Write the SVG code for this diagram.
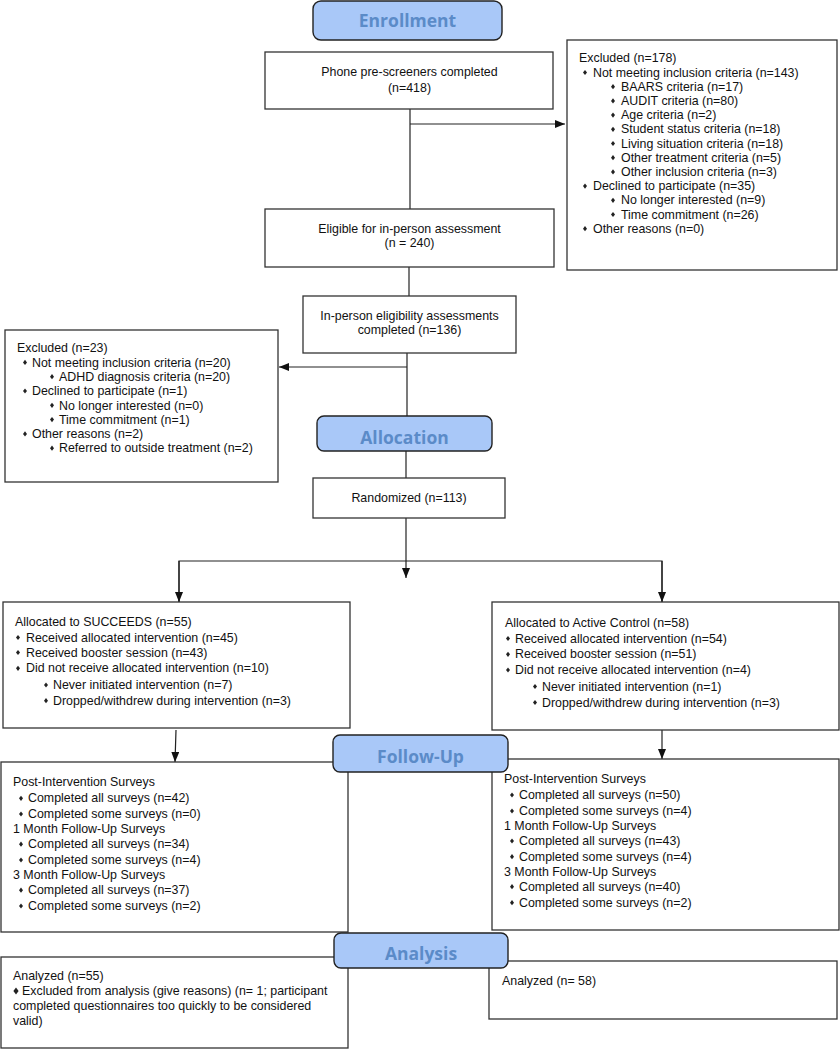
<svg xmlns="http://www.w3.org/2000/svg" xmlns:xlink="http://www.w3.org/1999/xlink" width="840" height="1050" viewBox="0 0 840 1050">
<style>
.box{fill:#fff;stroke:#333;stroke-width:1.3}
.hdr{fill:#a9c8f8;stroke:#222;stroke-width:1.4}
.ht{font-family:"Open Sans","Noto Sans",sans-serif;font-weight:700;font-size:17.5px;fill:#5b8bc8;text-anchor:middle}
.t{font-family:"Liberation Sans",Arial,sans-serif;font-size:12.4px;fill:#111}
.c{text-anchor:middle}
.ln{fill:none;stroke:#222;stroke-width:1.2}
</style>
<defs>
<marker id="ah" markerWidth="10" markerHeight="8" refX="10" refY="4" orient="auto" markerUnits="userSpaceOnUse">
<path d="M0,0 L10,4 L0,8 Z" fill="#111"/>
</marker>
<path id="b" d="M0,-2.6 L2,0 L0,2.6 L-2,0 Z" fill="#222"/>
<path id="bb" d="M0,-3.6 L2.6,0 L0,3.6 L-2.6,0 Z" fill="#222"/>
</defs>

<g id="connectors">
<line class="ln" x1="410" y1="109" x2="410" y2="209"/>
<line class="ln" x1="410" y1="124" x2="565" y2="124" marker-end="url(#ah)"/>
<line class="ln" x1="409" y1="267" x2="409" y2="296"/>
<line class="ln" x1="407" y1="353" x2="407" y2="416"/>
<line class="ln" x1="407" y1="367" x2="279" y2="367" marker-end="url(#ah)"/>
<line class="ln" x1="406" y1="451" x2="406" y2="478"/>
<line class="ln" x1="406" y1="518" x2="406" y2="578" marker-end="url(#ah)"/>
<polyline class="ln" points="179,602 179,561 662,561 662,602" />
<line class="ln" x1="179" y1="561" x2="179" y2="602" marker-end="url(#ah)"/>
<line class="ln" x1="662" y1="561" x2="662" y2="602" marker-end="url(#ah)"/>
<line class="ln" x1="176" y1="730" x2="175" y2="762" marker-end="url(#ah)"/>
<line class="ln" x1="662" y1="730" x2="662" y2="759" marker-end="url(#ah)"/>
</g>

<g id="phone">
<rect class="box" x="265" y="52" width="288" height="57"/>
<text class="t c" x="409.5" y="76.3">Phone pre-screeners completed</text>
<text class="t c" x="409.5" y="92.3">(n=418)</text>
</g>

<g id="excluded1">
<rect class="box" x="567" y="40" width="270" height="230"/>
<text class="t" x="579" y="62.3">Excluded (n=178)</text>
<use xlink:href="#b" x="585" y="72.5"/><text class="t" x="593" y="76.6">Not meeting inclusion criteria (n=143)</text>
<use xlink:href="#b" x="613" y="86.7"/><text class="t" x="621" y="90.8">BAARS criteria (n=17)</text>
<use xlink:href="#b" x="613" y="100.9"/><text class="t" x="621" y="105">AUDIT criteria (n=80)</text>
<use xlink:href="#b" x="613" y="115.1"/><text class="t" x="621" y="119.2">Age criteria (n=2)</text>
<use xlink:href="#b" x="613" y="129.3"/><text class="t" x="621" y="133.4">Student status criteria (n=18)</text>
<use xlink:href="#b" x="613" y="143.5"/><text class="t" x="621" y="147.6">Living situation criteria (n=18)</text>
<use xlink:href="#b" x="613" y="157.7"/><text class="t" x="621" y="161.8">Other treatment criteria (n=5)</text>
<use xlink:href="#b" x="613" y="171.9"/><text class="t" x="621" y="176">Other inclusion criteria (n=3)</text>
<use xlink:href="#b" x="585" y="186.1"/><text class="t" x="593" y="190.2">Declined to participate (n=35)</text>
<use xlink:href="#b" x="613" y="200.3"/><text class="t" x="621" y="204.4">No longer interested (n=9)</text>
<use xlink:href="#b" x="613" y="214.5"/><text class="t" x="621" y="218.6">Time commitment (n=26)</text>
<use xlink:href="#b" x="585" y="228.7"/><text class="t" x="593" y="232.8">Other reasons (n=0)</text>
</g>

<g id="eligible">
<rect class="box" x="265" y="209" width="289" height="58"/>
<text class="t c" x="409.5" y="233.3">Eligible for in-person assessment</text>
<text class="t c" x="409.5" y="247.3">(n = 240)</text>
</g>

<g id="inperson">
<rect class="box" x="303" y="296" width="213" height="57"/>
<text class="t c" x="409.5" y="320.3">In-person eligibility assessments</text>
<text class="t c" x="409.5" y="334.3">completed (n=136)</text>
</g>

<g id="excluded2">
<rect class="box" x="5" y="330" width="273" height="152"/>
<text class="t" x="17" y="352.3">Excluded (n=23)</text>
<use xlink:href="#b" x="25" y="362.4"/><text class="t" x="32" y="366.6">Not meeting inclusion criteria (n=20)</text>
<use xlink:href="#b" x="52" y="376.7"/><text class="t" x="59" y="380.9">ADHD diagnosis criteria (n=20)</text>
<use xlink:href="#b" x="25" y="391"/><text class="t" x="32" y="395.2">Declined to participate (n=1)</text>
<use xlink:href="#b" x="52" y="405.3"/><text class="t" x="59" y="409.5">No longer interested (n=0)</text>
<use xlink:href="#b" x="52" y="419.6"/><text class="t" x="59" y="423.8">Time commitment (n=1)</text>
<use xlink:href="#b" x="25" y="433.9"/><text class="t" x="32" y="438.1">Other reasons (n=2)</text>
<use xlink:href="#b" x="52" y="448.2"/><text class="t" x="59" y="452.4">Referred to outside treatment (n=2)</text>
</g>

<g id="randomized">
<rect class="box" x="313" y="478" width="192" height="40"/>
<text class="t c" x="409" y="502.3">Randomized (n=113)</text>
</g>

<g id="succeeds">
<rect class="box" x="3" y="602" width="347" height="126"/>
<text class="t" x="15" y="626">Allocated to SUCCEEDS (n=55)</text>
<use xlink:href="#b" x="18" y="637.5"/><text class="t" x="26" y="641.6">Received allocated intervention (n=45)</text>
<use xlink:href="#b" x="18" y="652.5"/><text class="t" x="26" y="656.6">Received booster session (n=43)</text>
<use xlink:href="#b" x="18" y="668.3"/><text class="t" x="26" y="672.4">Did not receive allocated intervention (n=10)</text>
<use xlink:href="#b" x="46" y="685"/><text class="t" x="53" y="689.1">Never initiated intervention (n=7)</text>
<use xlink:href="#b" x="46" y="700.7"/><text class="t" x="53" y="704.8">Dropped/withdrew during intervention (n=3)</text>
</g>

<g id="control">
<rect class="box" x="492" y="602" width="347" height="128"/>
<text class="t" x="505" y="627">Allocated to Active Control (n=58)</text>
<use xlink:href="#b" x="508" y="638.5"/><text class="t" x="515" y="642.6">Received allocated intervention (n=54)</text>
<use xlink:href="#b" x="508" y="654.3"/><text class="t" x="515" y="658.4">Received booster session (n=51)</text>
<use xlink:href="#b" x="508" y="670"/><text class="t" x="515" y="674.1">Did not receive allocated intervention (n=4)</text>
<use xlink:href="#b" x="535" y="686.5"/><text class="t" x="542" y="690.6">Never initiated intervention (n=1)</text>
<use xlink:href="#b" x="535" y="702.5"/><text class="t" x="542" y="706.6">Dropped/withdrew during intervention (n=3)</text>
</g>

<g id="followup-left">
<rect class="box" x="1" y="762" width="347" height="170"/>
<text class="t" x="13" y="786.3">Post-Intervention Surveys</text>
<use xlink:href="#b" x="21" y="798.3"/><text class="t" x="28" y="802.4">Completed all surveys (n=42)</text>
<use xlink:href="#b" x="21" y="814"/><text class="t" x="28" y="818.1">Completed some surveys (n=0)</text>
<text class="t" x="13" y="833.2">1 Month Follow-Up Surveys</text>
<use xlink:href="#b" x="21" y="844.2"/><text class="t" x="28" y="848.3">Completed all surveys (n=34)</text>
<use xlink:href="#b" x="21" y="860"/><text class="t" x="28" y="864.1">Completed some surveys (n=4)</text>
<text class="t" x="13" y="879.2">3 Month Follow-Up Surveys</text>
<use xlink:href="#b" x="21" y="890.2"/><text class="t" x="28" y="894.3">Completed all surveys (n=37)</text>
<use xlink:href="#b" x="21" y="906"/><text class="t" x="28" y="910.1">Completed some surveys (n=2)</text>
</g>

<g id="followup-right">
<rect class="box" x="492" y="759" width="347" height="171"/>
<text class="t" x="504" y="783.4">Post-Intervention Surveys</text>
<use xlink:href="#b" x="512" y="795"/><text class="t" x="519" y="799.1">Completed all surveys (n=50)</text>
<use xlink:href="#b" x="512" y="811"/><text class="t" x="519" y="815.1">Completed some surveys (n=4)</text>
<text class="t" x="504" y="829.9">1 Month Follow-Up Surveys</text>
<use xlink:href="#b" x="512" y="841"/><text class="t" x="519" y="845.1">Completed all surveys (n=43)</text>
<use xlink:href="#b" x="512" y="856.7"/><text class="t" x="519" y="860.8">Completed some surveys (n=4)</text>
<text class="t" x="504" y="875.9">3 Month Follow-Up Surveys</text>
<use xlink:href="#b" x="512" y="886.7"/><text class="t" x="519" y="890.8">Completed all surveys (n=40)</text>
<use xlink:href="#b" x="512" y="902.7"/><text class="t" x="519" y="906.8">Completed some surveys (n=2)</text>
</g>

<g id="analysis-left">
<rect class="box" x="1" y="957" width="347" height="91"/>
<text class="t" x="13" y="980.2">Analyzed (n=55)</text>
<use xlink:href="#bb" x="16" y="991"/><text class="t" x="22" y="995.2">Excluded from analysis (give reasons) (n= 1; participant</text>
<text class="t" x="13" y="1010.2">completed questionnaires too quickly to be considered</text>
<text class="t" x="13" y="1024.6">valid)</text>
</g>

<g id="analysis-right">
<rect class="box" x="489" y="961" width="348" height="58"/>
<text class="t" x="502" y="985.2">Analyzed (n= 58)</text>
</g>

<g id="hdr-enrollment">
<rect class="hdr" x="313" y="1" width="189" height="39" rx="8"/>
<text class="ht" x="407.5" y="27">Enrollment</text>
</g>
<g id="hdr-allocation">
<rect class="hdr" x="317" y="416" width="175" height="35" rx="7"/>
<text class="ht" x="404.5" y="443.5">Allocation</text>
</g>
<g id="hdr-followup">
<rect class="hdr" x="333" y="735" width="175" height="37" rx="7"/>
<text class="ht" x="420.5" y="763">Follow-Up</text>
</g>
<g id="hdr-analysis">
<rect class="hdr" x="334" y="933" width="174" height="35" rx="7"/>
<text class="ht" x="421" y="959.5">Analysis</text>
</g>
</svg>
